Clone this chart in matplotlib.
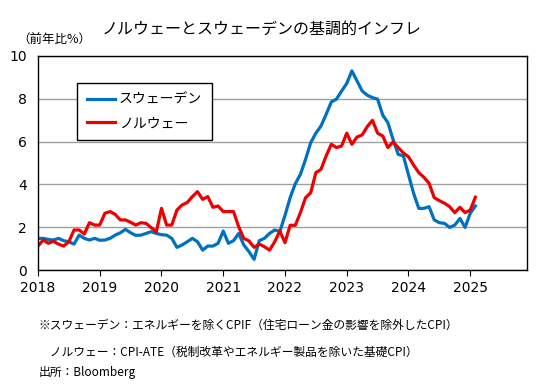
import numpy as np
import matplotlib
matplotlib.use("Agg")
import matplotlib.pyplot as plt

plt.rcParams['font.family'] = ['Noto Sans CJK JP', 'DejaVu Sans']

# 月次データ（2018年1月～2025年2月、前年比%）
sweden = [1.48, 1.48, 1.43, 1.40, 1.48, 1.37, 1.32, 1.21, 1.63, 1.48, 1.40, 1.48,   # 2018
          1.39, 1.40, 1.48, 1.63, 1.74, 1.90, 1.74, 1.62, 1.63, 1.71, 1.79, 1.71,   # 2019
          1.65, 1.63, 1.48, 1.06, 1.17, 1.32, 1.48, 1.32, 0.93, 1.12, 1.12, 1.25,   # 2020
          1.82, 1.25, 1.37, 1.71, 1.17, 0.86, 0.50, 1.37, 1.48, 1.71, 1.87, 1.80,   # 2021
          2.55, 3.38, 4.03, 4.47, 5.17, 5.95, 6.39, 6.73, 7.27, 7.85, 7.98, 8.36,   # 2022
          8.71, 9.30, 8.83, 8.36, 8.16, 8.05, 7.98, 7.23, 6.88, 6.10, 5.40, 5.33,   # 2023
          4.45, 3.58, 2.88, 2.88, 2.96, 2.34, 2.21, 2.18, 1.99, 2.10, 2.41, 1.99,   # 2024
          2.65, 2.99]                                                               # 2025
norway = [1.12, 1.40, 1.25, 1.34, 1.21, 1.12, 1.32, 1.87, 1.87, 1.68, 2.21, 2.10,   # 2018
          2.10, 2.65, 2.73, 2.60, 2.34, 2.34, 2.23, 2.10, 2.21, 2.18, 1.98, 1.79,   # 2019
          2.88, 2.10, 2.10, 2.80, 3.04, 3.15, 3.43, 3.66, 3.30, 3.43, 2.93, 2.99,   # 2020
          2.73, 2.73, 2.73, 2.02, 1.48, 1.36, 1.06, 1.21, 1.09, 0.93, 1.32, 1.82,   # 2021
          1.28, 2.09, 2.09, 2.68, 3.38, 3.61, 4.55, 4.70, 5.33, 5.87, 5.72, 5.79,   # 2022
          6.39, 5.87, 6.21, 6.31, 6.70, 6.99, 6.39, 6.26, 5.72, 5.98, 5.72, 5.47,   # 2023
          5.29, 4.90, 4.55, 4.33, 4.05, 3.38, 3.24, 3.12, 2.96, 2.68, 2.93, 2.68,   # 2024
          2.80, 3.40]                                                               # 2025
years = [2018, 2019, 2020, 2021, 2022, 2023, 2024, 2025]

title = "ノルウェーとスウェーデンの基調的インフレ"
notes = ["※スウェーデン：エネルギーを除くCPIF（住宅ローン金の影響を除外したCPI）",
         "　ノルウェー：CPI-ATE（税制改革やエネルギー製品を除いた基礎CPI）",
         "出所：Bloomberg"]

months = np.arange(len(sweden))

fig = plt.figure(figsize=(5.53, 3.88), dpi=100)
ax = fig.add_axes([0.0687, 0.304, 0.884, 0.552])

ax.plot(months, sweden, color='#0070c0', lw=2.3, label='スウェーデン')
ax.plot(months, norway, color='#ee0000', lw=2.3, label='ノルウェー')

ax.set_xlim(0, 95)
ax.set_ylim(0, 10)
ax.set_yticks(range(0, 11, 2))
ax.set_xticks([12 * k for k in range(len(years))])
ax.set_xticklabels([str(y) for y in years])
ax.grid(True, axis='y', color='#a0a0a0', lw=1)
ax.set_axisbelow(True)
ax.tick_params(axis='y', length=0, pad=8, labelsize=10)
ax.tick_params(axis='x', length=4, direction='out', pad=4, labelsize=10)
for lab in ax.get_xticklabels() + ax.get_yticklabels():
    lab.set_family('DejaVu Sans')
for s in ax.spines.values():
    s.set_color('black')
    s.set_linewidth(1)

leg = ax.legend(loc='upper left', bbox_to_anchor=(0.08, 0.874), fontsize=10,
                frameon=True, fancybox=False, framealpha=1, edgecolor='black',
                handlelength=2.0, handletextpad=0.3, borderpad=0.7, labelspacing=0.7,
                borderaxespad=0)
leg.get_frame().set_linewidth(1)

fig.text(0.474, 0.925, title, ha='center', va='center', fontsize=11.5)
fig.text(0.032, 0.895, "（前年比%）", ha='left', va='center', fontsize=9)

fig.text(0.069, 0.162, notes[0], ha='left', va='center', fontsize=8.5)
fig.text(0.069, 0.093, notes[1], ha='left', va='center', fontsize=8.5)
fig.text(0.069, 0.041, notes[2], ha='left', va='center', fontsize=8.5)

fig.savefig("out.png", dpi=100)
